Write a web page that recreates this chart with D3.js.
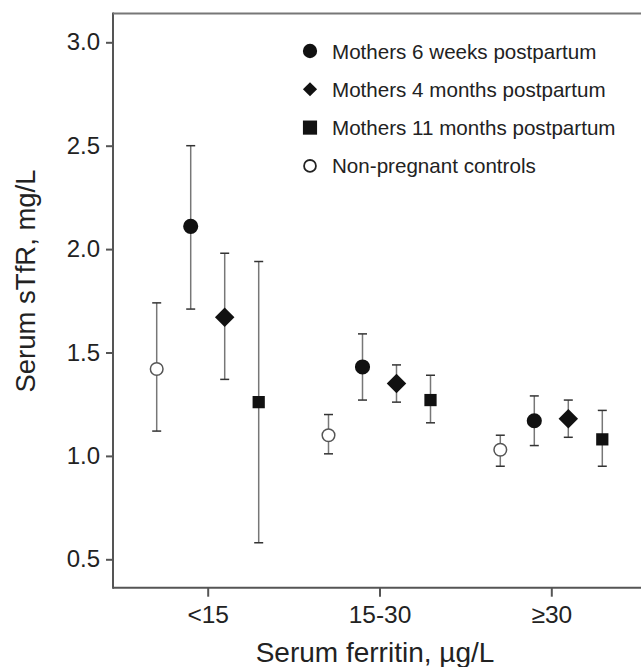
<!DOCTYPE html>
<html>
<head>
<meta charset="utf-8">
<script src="https://cdn.jsdelivr.net/npm/d3@7"></script>
<style>
body { margin: 0; background: #fff; }
text { font-family: "Liberation Sans", Arial, sans-serif; fill: #222; }
</style>
</head>
<body>
<div id="chart"></div>
<script>
var categories = ["<15", "15-30", "\u226530"];
var seriesNames = ["Non-pregnant controls", "Mothers 6 weeks postpartum", "Mothers 4 months postpartum", "Mothers 11 months postpartum"];
var legendOrder = ["Mothers 6 weeks postpartum", "Mothers 4 months postpartum", "Mothers 11 months postpartum", "Non-pregnant controls"];
var yTicks = [0.5, 1.0, 1.5, 2.0, 2.5, 3.0];

// mean and error range per ferritin group
var controlsMean = [1.42, 1.10, 1.03];
var controlsLow  = [1.12, 1.01, 0.95];
var controlsHigh = [1.74, 1.20, 1.10];

var wk6Mean = [2.11, 1.43, 1.17];
var wk6Low  = [1.71, 1.27, 1.05];
var wk6High = [2.50, 1.59, 1.29];

var mo4Mean = [1.67, 1.35, 1.18];
var mo4Low  = [1.37, 1.26, 1.09];
var mo4High = [1.98, 1.44, 1.27];

var mo11Mean = [1.26, 1.27, 1.08];
var mo11Low  = [0.58, 1.16, 0.95];
var mo11High = [1.94, 1.39, 1.22];

var seriesData = {
  "Non-pregnant controls": [controlsMean, controlsLow, controlsHigh],
  "Mothers 6 weeks postpartum": [wk6Mean, wk6Low, wk6High],
  "Mothers 4 months postpartum": [mo4Mean, mo4Low, mo4High],
  "Mothers 11 months postpartum": [mo11Mean, mo11Low, mo11High]
};

var width = 641, height = 667;
var frameLeft = 113, frameTop = 13.5, frameBottom = 587.7;

var svg = d3.select("#chart").append("svg")
  .attr("width", width)
  .attr("height", height);

var y = d3.scaleLinear().domain([0.5, 3.0]).range([559.3, 42.3]);
var x = d3.scalePoint().domain(categories).range([207.7, 551.3]);
var offset = d3.scaleBand().domain(seriesNames).range([-68, 68]);

var points = [];
seriesNames.forEach(function (s) {
  categories.forEach(function (c, i) {
    points.push({
      series: s, cat: c,
      mean: seriesData[s][0][i],
      low: seriesData[s][1][i],
      high: seriesData[s][2][i]
    });
  });
});

function px(d) { return x(d.cat) + offset(d.series) + offset.bandwidth() / 2; }

function symbolFor(s) {
  if (s == "Mothers 6 weeks postpartum") return d3.symbol().type(d3.symbolCircle).size(180)();
  if (s == "Mothers 4 months postpartum") return d3.symbol().type(d3.symbolSquare).size(190)();
  if (s == "Mothers 11 months postpartum") return d3.symbol().type(d3.symbolSquare).size(150)();
  return d3.symbol().type(d3.symbolCircle).size(125)();
}

// frame
svg.append("line")
  .attr("x1", frameLeft).attr("x2", frameLeft)
  .attr("y1", frameTop - 1).attr("y2", frameBottom + 1)
  .style("stroke", "#555").style("stroke-width", 2);
svg.append("line")
  .attr("x1", frameLeft).attr("x2", width)
  .attr("y1", frameTop).attr("y2", frameTop)
  .style("stroke", "#777").style("stroke-width", 2);
svg.append("line")
  .attr("x1", frameLeft).attr("x2", width)
  .attr("y1", frameBottom).attr("y2", frameBottom)
  .style("stroke", "#555").style("stroke-width", 2);

// axes
var yAxis = svg.append("g")
  .attr("transform", "translate(" + frameLeft + ",0)")
  .call(d3.axisLeft(y).tickValues(yTicks).tickFormat(d3.format(".1f")).tickSize(7).tickPadding(6));
yAxis.select(".domain").remove();
yAxis.selectAll("line").style("stroke", "#555").style("stroke-width", 2);
yAxis.selectAll("text").style("font-size", "24px").style("fill", "#222")
  .style("font-family", "'Liberation Sans', Arial, sans-serif");

var xAxis = svg.append("g")
  .attr("transform", "translate(0," + frameBottom + ")")
  .call(d3.axisBottom(x).tickSize(9).tickPadding(9));
xAxis.select(".domain").remove();
xAxis.selectAll("line").style("stroke", "#555").style("stroke-width", 2);
xAxis.selectAll("text").style("font-size", "24.5px").style("fill", "#222")
  .style("font-family", "'Liberation Sans', Arial, sans-serif");

// error bars
var bars = svg.append("g");
bars.selectAll(".stem")
  .data(points)
  .enter().append("line")
  .attr("x1", px).attr("x2", px)
  .attr("y1", function (d) { return y(d.low); })
  .attr("y2", function (d) { return y(d.high); })
  .style("stroke", "#777").style("stroke-width", 1.5);

["low", "high"].forEach(function (k) {
  bars.selectAll(".cap-" + k)
    .data(points)
    .enter().append("line")
    .attr("x1", function (d) { return px(d) - 4.5; })
    .attr("x2", function (d) { return px(d) + 4.5; })
    .attr("y1", function (d) { return y(d[k]); })
    .attr("y2", function (d) { return y(d[k]); })
    .style("stroke", "#333").style("stroke-width", 1.5);
});

// markers
svg.append("g").selectAll("path")
  .data(points)
  .enter().append("path")
  .attr("d", function (d) { return symbolFor(d.series); })
  .attr("transform", function (d) {
    var r = d.series == "Mothers 4 months postpartum" ? " rotate(45)" : "";
    return "translate(" + px(d) + "," + y(d.mean) + ")" + r;
  })
  .style("fill", function (d) { return d.series == "Non-pregnant controls" ? "#fff" : "#111"; })
  .style("stroke", function (d) { return d.series == "Non-pregnant controls" ? "#555" : "none"; })
  .style("stroke-width", 1.5);

// legend
var legend = svg.append("g").selectAll("g")
  .data(legendOrder)
  .enter().append("g")
  .attr("transform", function (d, i) { return "translate(310," + (51 + i * 38.3) + ")"; });

legend.append("path")
  .attr("d", function (d) {
    if (d == "Mothers 6 weeks postpartum") return d3.symbol().type(d3.symbolCircle).size(160)();
    if (d == "Mothers 4 months postpartum") return d3.symbol().type(d3.symbolSquare).size(100)();
    if (d == "Mothers 11 months postpartum") return d3.symbol().type(d3.symbolSquare).size(200)();
    return d3.symbol().type(d3.symbolCircle).size(110)();
  })
  .attr("transform", function (d) { return d == "Mothers 4 months postpartum" ? "rotate(45)" : null; })
  .style("fill", function (d) { return d == "Non-pregnant controls" ? "#fff" : "#111"; })
  .style("stroke", function (d) { return d == "Non-pregnant controls" ? "#222" : "none"; })
  .style("stroke-width", 1.8);

legend.append("text")
  .attr("x", 22)
  .attr("y", 7.5)
  .text(function (d) { return d; })
  .style("font-size", "20.6px");

// axis titles
svg.append("text")
  .attr("x", 375)
  .attr("y", 662)
  .style("text-anchor", "middle")
  .style("font-size", "28px")
  .text("Serum ferritin, \u00b5g/L");

svg.append("text")
  .attr("transform", "translate(35,281) rotate(-90)")
  .style("text-anchor", "middle")
  .style("font-size", "27.5px")
  .text("Serum sTfR, mg/L");
</script>
</body>
</html>
